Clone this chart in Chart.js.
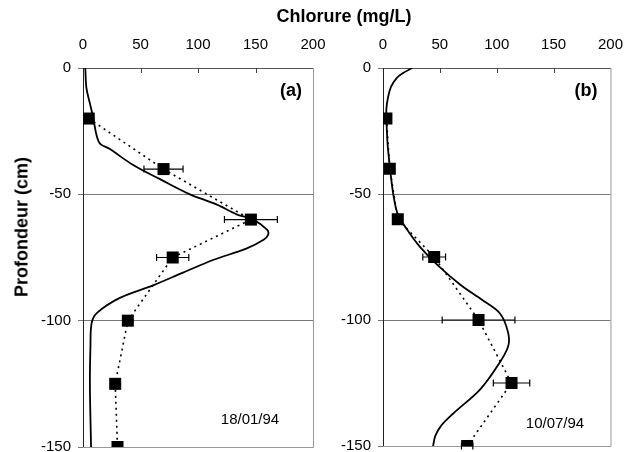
<!DOCTYPE html>
<html>
<head>
<meta charset="utf-8">
<script src="https://cdn.jsdelivr.net/npm/chart.js@4.4.0/dist/chart.umd.min.js"></script>
<style>
body{margin:0;width:629px;height:452px;overflow:hidden;background:#fff;position:relative;font-family:"Liberation Sans",Arial,sans-serif;}
canvas{position:absolute;top:0;}
.lbl{position:absolute;white-space:nowrap;color:#000;transform:translate(-50%,-50%);}
.gras{font-weight:bold;font-size:18px;}
.date{font-size:15px;}
</style>
</head>
<body>
<canvas id="canvasA" width="345" height="463" style="left:0px"></canvas>
<canvas id="canvasB" width="327" height="462" style="left:310px"></canvas>
<div class="lbl gras" style="left:344px;top:16px">Chlorure (mg/L)</div>
<div class="lbl gras" style="left:22px;top:227px;transform:translate(-50%,-50%) rotate(-90deg)">Profondeur (cm)</div>
<div class="lbl gras" style="left:291px;top:90px">(a)</div>
<div class="lbl gras" style="left:586px;top:90px">(b)</div>
<div class="lbl date" style="left:250px;top:418px">18/01/94</div>
<div class="lbl date" style="left:555px;top:422px">10/07/94</div>
<script>
// profondeurs des prelevements (cm)
var profondeurs = [-20, -40, -60, -75, -100, -125, -150];

// mesures et ecarts (mg/L)
var mesureA = [5, 70, 146, 78, 39, 28, 30];
var erreurA = [0, 17, 23, 14, 3, 4, 0];
var mesureB = [3, 6, 13, 45, 84, 113, 74];
var erreurB = [0, 0, 0, 10, 32, 16, 5];

// courbes simulees
var modeleA_x = [2, 3, 6, 9, 12, 15, 23, 44, 67, 93, 116, 134, 148, 160, 161, 157, 142, 113, 87, 61, 32, 12, 7.5, 6.5, 6, 7];
var modeleA_y = [0, -8, -14, -20, -27, -30, -32, -38.5, -44, -50, -54, -58, -60, -64, -66, -68, -71.5, -76, -81, -86, -91, -97, -101, -110, -125, -150];
var modeleB_x = [25.5, 17.6, 12, 7, 4.5, 3, 3, 4, 6, 9, 13, 21, 32.5, 47.5, 68, 87, 103, 110, 110, 101, 85.5, 62, 51, 46, 44];
var modeleB_y = [0, -2, -4, -7.5, -11.5, -16, -20, -30, -39, -50, -58, -64, -71, -78, -86, -92, -97.5, -105, -110.5, -118, -127.5, -137, -142, -146, -150];

var ticksX = [0, 50, 100, 150, 200];
var ticksY = [0, -50, -100, -150];

function enPoints(xs, ys){
	var pts = [];
	xs.forEach(function(v, i){ pts.push({x: v, y: ys[i]}); });
	return pts;
}

function creerGraphique(id, modX, modY, mesure, erreur, largeurY, padDroite){
	var barresErreur = {
		id: 'barresErreur',
		beforeDatasetsDraw: function(chart){
			var ctx = chart.ctx, sx = chart.scales.x, sy = chart.scales.y, ca = chart.chartArea;
			ctx.save();
			// cadre droit et bas
			ctx.strokeStyle = '#999';
			ctx.lineWidth = 1;
			ctx.beginPath();
			ctx.moveTo(ca.right + 0.5, ca.top);
			ctx.lineTo(ca.right + 0.5, ca.bottom + 0.5);
			ctx.lineTo(ca.left, ca.bottom + 0.5);
			ctx.stroke();
			// graduations vers l'interieur en haut
			ctx.strokeStyle = '#444';
			ticksX.slice(1, -1).forEach(function(v){
				var px = Math.round(sx.getPixelForValue(v)) + 0.5;
				ctx.beginPath();
				ctx.moveTo(px, ca.top);
				ctx.lineTo(px, ca.top + 5);
				ctx.stroke();
			});
			// barres d'erreur
			ctx.strokeStyle = '#000';
			ctx.lineWidth = 1.2;
			mesure.forEach(function(v, i){
				if (!erreur[i]) return;
				var x1 = sx.getPixelForValue(v - erreur[i]);
				var x2 = sx.getPixelForValue(v + erreur[i]);
				var py = sy.getPixelForValue(profondeurs[i]);
				ctx.beginPath();
				ctx.moveTo(x1, py); ctx.lineTo(x2, py);
				ctx.moveTo(x1, py - 3.5); ctx.lineTo(x1, py + 3.5);
				ctx.moveTo(x2, py - 3.5); ctx.lineTo(x2, py + 3.5);
				ctx.stroke();
			});
			ctx.restore();
		}
	};

	var ctx = document.getElementById(id).getContext('2d');
	return new Chart(ctx, {
		type: 'scatter',
		data: {
			datasets: [{
				data: enPoints(modX, modY),
				showLine: true,
				tension: 0.35,
				borderColor: '#000',
				borderWidth: 1.8,
				pointRadius: 0
			},{
				data: enPoints(mesure, profondeurs),
				showLine: true,
				borderColor: '#000',
				borderWidth: 1.6,
				borderDash: [2, 4],
				pointStyle: 'rect',
				pointRadius: 8.5,
				pointBackgroundColor: '#000',
				pointBorderColor: '#000',
				pointBorderWidth: 0
			}]
		},
		options: {
			responsive: false,
			animation: false,
			layout: { padding: { left: 0, top: 0, right: padDroite, bottom: 0 } },
			plugins: { legend: { display: false }, tooltip: { enabled: false } },
			scales: {
				x: {
					type: 'linear',
					position: 'top',
					min: 0, max: 200,
					afterBuildTicks: function(s){ s.ticks = ticksX.map(function(v){ return {value: v}; }); },
					afterFit: function(s){ s.height = 68; },
					grid: { drawOnChartArea: false, drawTicks: false },
					border: { color: '#555', width: 1 },
					ticks: { color: '#000', padding: 14, font: { family: 'Liberation Sans', size: 15 } }
				},
				y: {
					type: 'linear',
					min: -150, max: 0,
					afterBuildTicks: function(s){ s.ticks = ticksY.map(function(v){ return {value: v}; }); },
					afterFit: function(s){ s.width = largeurY; },
					grid: { color: '#777', lineWidth: 1, tickLength: 5 },
					border: { color: '#222', width: 1 },
					ticks: { color: '#000', padding: 7, font: { family: 'Liberation Sans', size: 15 } }
				}
			}
		},
		plugins: [barresErreur]
	});
}

window.onload = function(){
	creerGraphique('canvasA', modeleA_x, modeleA_y, mesureA, erreurA, 83, 32);
	creerGraphique('canvasB', modeleB_x, modeleB_y, mesureB, erreurB, 73, 9);
};
</script>
</body>
</html>
